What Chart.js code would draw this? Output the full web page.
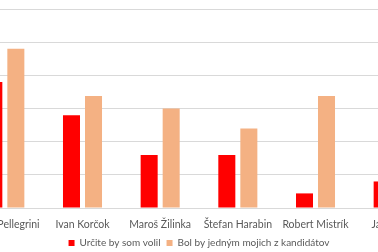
<!DOCTYPE html>
<html>
<head>
<meta charset="utf-8">
<script src="https://cdn.jsdelivr.net/npm/chart.js@4"></script>
<style>
  html, body { margin: 0; padding: 0; background: #fff; overflow: hidden; }
  #wrap { position: absolute; left: -58px; top: 0; width: 490px; height: 258px; }
</style>
</head>
<body>
<div id="wrap"><canvas id="chart"></canvas></div>
<script>
// kandidáti (prvý a posledný sú na výreze orezané)
const candidates = ['Peter Pellegrini', 'Ivan Korčok', 'Maroš Žilinka', 'Štefan Harabin', 'Robert Mistrík', 'Ján Kubiš'];
const surelyVote = [19, 14, 8, 8, 2.2, 4];
const consider = [24, 16.9, 15, 12, 16.9, 13];
const seriesNames = ['Určite by som volil', 'Bol by jedným mojich z kandidátov'];

const textColor = '#595959';
const gridColor = '#d9d9d9';

new Chart(document.getElementById('chart'), {
  type: 'bar',
  data: {
    labels: candidates,
    datasets: [
      {label: seriesNames[0], data: surelyVote, backgroundColor: '#ff0000'},
      {label: seriesNames[1], data: consider, backgroundColor: '#f4b183'}
    ]
  },
  options: {
    responsive: true,
    maintainAspectRatio: false,
    animation: false,
    layout: {padding: {left: 24, right: 0, top: 9, bottom: 0}},
    datasets: {bar: {categoryPercentage: 0.567, barPercentage: 0.773}},
    plugins: {
      tooltip: {enabled: false},
      legend: {
        position: 'bottom',
        labels: {
          boxWidth: 6, boxHeight: 6, padding: 6,
          color: textColor,
          font: {family: 'Lato', size: 10}
        }
      }
    },
    scales: {
      x: {
        grid: {display: false},
        border: {color: gridColor},
        ticks: {color: textColor, font: {family: 'Lato', size: 10.5}, maxRotation: 0, padding: 2},
        afterFit: (s) => { s.height = 24; }
      },
      y: {
        min: 0, max: 30,
        ticks: {display: false, stepSize: 5},
        border: {display: false},
        grid: {color: gridColor},
        afterFit: (s) => { s.width = 0; }
      }
    }
  }
});
</script>
</body>
</html>
